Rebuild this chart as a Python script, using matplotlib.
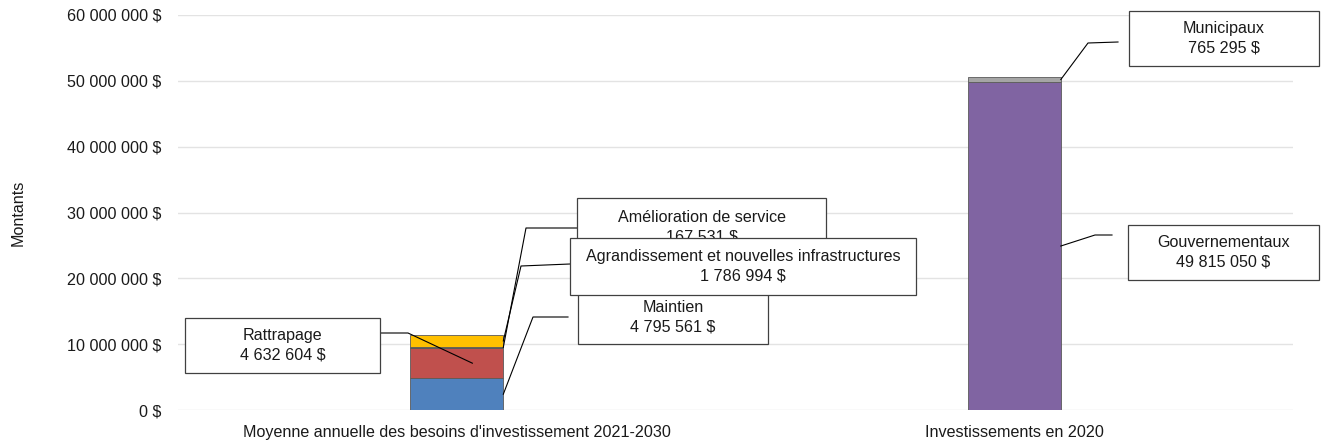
import matplotlib.pyplot as plt
from matplotlib.patches import Rectangle
from matplotlib.lines import Line2D

plt.rcParams['font.family'] = ['Liberation Sans', 'DejaVu Sans']

# données
categories = ["Moyenne annuelle des besoins d'investissement 2021-2030", "Investissements en 2020"]
besoins_noms = ["Maintien", "Rattrapage", "Amélioration de service", "Agrandissement et nouvelles infrastructures"]
besoins_vals = [4795561, 4632604, 167531, 1786994]
besoins_couleurs = ["#4f81bd", "#c0504d", "#5b6127", "#ffc000"]
invest_noms = ["Gouvernementaux", "Municipaux"]
invest_vals = [49815050, 765295]
invest_couleurs = ["#8064a2", "#a5a5a5"]
yticks = [0, 10000000, 20000000, 30000000, 40000000, 50000000, 60000000]

W, H = 1321, 443
FS = 11.6


def fmt(v):
    return f"{v:,}".replace(",", " ") + " $"


fig = plt.figure(figsize=(W / 100, H / 100), dpi=100)
ax = fig.add_axes([178 / W, 33 / H, (1293 - 178) / W, (410 - 15) / H])

largeur = 0.167
segments = []  # (x, bas, hauteur) pour les étiquettes
bas = 0
for v, c in zip(besoins_vals, besoins_couleurs):
    ax.bar(0, v, largeur, bottom=bas, color=c, edgecolor='#5a5a5a', linewidth=0.6, zorder=3)
    segments.append((0, bas, v))
    bas += v
bas = 0
for v, c in zip(invest_vals, invest_couleurs):
    ax.bar(1, v, largeur, bottom=bas, color=c, edgecolor='#5a5a5a', linewidth=0.6, zorder=3)
    segments.append((1, bas, v))
    bas += v

ax.set_xlim(-0.5, 1.5)
ax.set_ylim(0, 60000000)
ax.set_yticks(yticks)
ax.set_yticklabels([fmt(t) for t in yticks], fontsize=FS, color='#1a1a1a')
ax.set_xticks([0, 1])
ax.set_xticklabels(categories, fontsize=FS, color='#1a1a1a')
ax.tick_params(length=0)
ax.tick_params(axis='y', pad=12)
ax.tick_params(axis='x', pad=11)
ax.grid(axis='y', color='#e3e3e3', linewidth=1, zorder=0)
for s in ax.spines.values():
    s.set_visible(False)
ax.set_ylabel("Montants", fontsize=FS, color='#1a1a1a', labelpad=30)


def px(x, y):
    # pixels image (origine en haut) -> fraction de figure
    return x / W, 1 - y / H


def cible(i, dx=0.0):
    x, b, h = segments[i]
    xd, yd = ax.transData.transform((x + largeur / 2 + dx, b + h / 2))
    return xd, H - yd


def boite(x0, y0, x1, y1, texte, z):
    fx, fy = px(x0, y1)
    fig.patches.append(Rectangle((fx, fy), (x1 - x0) / W, (y1 - y0) / H,
                                 transform=fig.transFigure, facecolor='white',
                                 edgecolor='#404040', linewidth=0.9, zorder=z))
    tx, ty = px((x0 + x1) / 2, (y0 + y1) / 2)
    fig.text(tx, ty, texte, ha='center', va='center', fontsize=FS,
             color='#1a1a1a', linespacing=1.35, zorder=z + 0.5)


def ligne(points):
    xs = [p[0] / W for p in points]
    ys = [1 - p[1] / H for p in points]
    fig.lines.append(Line2D(xs, ys, transform=fig.transFigure, color='black',
                            linewidth=0.8, zorder=5))


# étiquettes des besoins
ligne([(380, 333), (408, 333), cible(1, dx=-largeur / 2 + 0.028)])
boite(185, 318, 380, 373, besoins_noms[1] + "\n" + fmt(besoins_vals[1]), 6)

ligne([(568, 317), (533, 317), cible(0)])
boite(578, 290, 768, 344, besoins_noms[0] + "\n" + fmt(besoins_vals[0]), 6)

ligne([(577, 228), (526, 228), cible(2)])
boite(577, 198, 826, 256, besoins_noms[2] + "\n" + fmt(besoins_vals[2]), 6)

ligne([(570, 264), (521, 266), cible(3)])
boite(570, 238, 916, 295, besoins_noms[3] + "\n" + fmt(besoins_vals[3]), 8)

# étiquettes des investissements
ligne([(1118, 42), (1088, 43), cible(5)])
boite(1129, 11, 1319, 66, invest_noms[1] + "\n" + fmt(invest_vals[1]), 6)

ligne([(1112, 235), (1095, 235), cible(4)])
boite(1128, 225, 1319, 280, invest_noms[0] + "\n" + fmt(invest_vals[0]), 6)

fig.savefig("out.png", dpi=100)
